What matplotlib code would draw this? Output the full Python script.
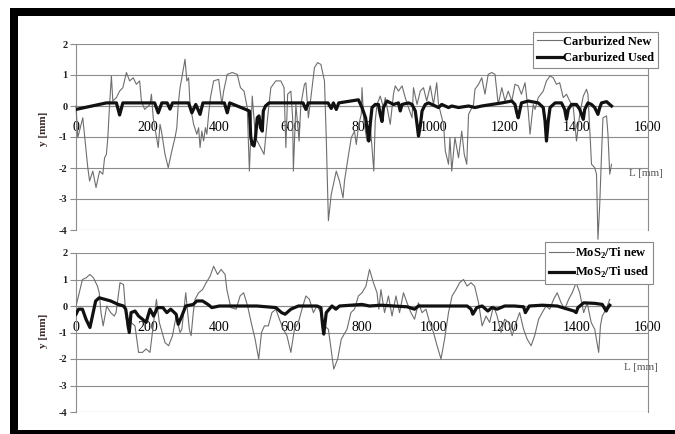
import matplotlib
matplotlib.use("Agg")
import matplotlib.pyplot as plt
from matplotlib.patches import Rectangle

plt.rcParams['font.family'] = ['Liberation Serif', 'DejaVu Serif']
plt.rcParams['mathtext.fontset'] = 'custom'
plt.rcParams['mathtext.rm'] = 'Liberation Serif'
plt.rcParams['mathtext.bf'] = 'Liberation Serif:bold'

# ---------------- data ----------------
carb_new_L = [0, 5, 19, 33, 38, 47, 56, 66, 75, 80, 85, 89, 94, 99, 103, 113, 122, 131, 141, 150,
              160, 169, 178, 183, 192, 207, 211, 216, 230, 235, 239, 249, 258, 268, 277, 282, 286, 291,
              296, 305, 310, 315, 319, 329, 338, 343, 347, 352, 357, 362, 366, 371, 376, 385, 399, 408,
              413, 423, 437, 451, 460, 470, 479, 485, 493, 502, 512, 526, 535, 545, 559, 573, 582, 587,
              592, 601, 606, 608, 615, 624, 629, 639, 643, 650, 657, 667, 676, 685, 695, 700, 706, 714,
              728, 737, 747, 751, 761, 770, 779, 784, 791, 798, 800, 805, 814, 823, 833, 837, 842, 851,
              860, 865, 879, 888, 893, 902, 912, 921, 930, 940, 944, 954, 963, 972, 981, 991, 1000, 1009,
              1014, 1028, 1033, 1042, 1046, 1051, 1060, 1070, 1079, 1086, 1093, 1098, 1112, 1116, 1126,
              1135, 1144, 1153, 1163, 1172, 1181, 1191, 1200, 1209, 1219, 1228, 1237, 1246, 1256, 1265,
              1270, 1279, 1284, 1293, 1307, 1316, 1326, 1335, 1344, 1353, 1363, 1372, 1381, 1391, 1400,
              1409, 1419, 1428, 1432, 1442, 1451, 1456, 1460, 1465, 1470, 1474, 1484, 1488, 1493, 1498]
carb_new_y = [0.0, -1.02, -0.38, -1.99, -2.42, -2.10, -2.63, -2.10, -2.20, -1.67, -1.56, -1.02, 0.05, 0.97,
              0.16, 0.27, 0.48, 0.59, 1.08, 0.81, 0.91, 0.70, 0.81, 0.16, -0.11, 0.05, 0.38, -0.38, -1.34,
              -0.59, -0.81, -1.56, -1.99, -1.45, -1.02, -0.70, 0.05, 0.59, 0.91, 1.51, 0.81, 0.91, 0.05,
              -0.59, -0.91, -0.70, -1.34, -0.81, -1.13, -0.70, -0.91, -0.27, 0.27, 0.81, 0.86, 0.05, 0.48,
              1.02, 1.08, 1.02, 0.59, 0.48, -0.05, -2.10, 0.32, -1.02, -1.24, -1.56, -0.48, 0.59, 0.81,
              0.81, 0.59, -1.34, 0.38, 0.48, -0.38, -2.10, 0.05, -1.13, 0.05, 0.70, 0.75, -0.38, 0.27,
              1.24, 1.40, 1.34, 0.81, -1.02, -3.70, -2.85, -2.10, -2.42, -2.96, -2.42, -1.67, -1.02, -0.81,
              -1.24, -0.59, -0.27, 0.59, -0.48, -1.13, -0.59, -2.10, -0.48, 0.05, 0.32, -0.05, 0.27, -0.59,
              0.38, 0.65, 0.48, 0.65, 0.27, -0.05, -0.38, 0.59, 0.05, 0.48, 0.59, 0.16, 0.65, 0.05, 0.75,
              0.05, -0.59, -1.45, -1.88, -1.02, -2.10, -1.02, -1.67, -0.81, -1.56, -1.88, -0.27, 0.05, 0.54,
              0.70, 0.91, 0.38, 1.02, 1.08, 1.02, 0.05, 0.59, 0.16, 0.48, 0.16, 0.70, 0.65, 0.38, 0.75,
              -0.16, -0.91, 0.05, -0.11, 0.27, 0.48, 0.81, 0.97, 0.91, 0.70, 0.75, 0.27, 0.38, 0.16, -0.05,
              -1.13, -0.27, 0.32, 0.54, 0.38, -1.88, -1.99, -2.20, -4.30, -3.17, -1.56, -0.38, -0.32, -0.91,
              -2.20, -1.88]

carb_used_L = [0, 85, 113, 122, 131, 220, 230, 240, 255, 263, 270, 315, 324, 335, 347, 355, 415, 423, 430,
               485, 489, 493, 498, 502, 507, 512, 516, 521, 524, 530, 540, 635, 643, 650, 705, 714, 720,
               728, 735, 790, 800, 810, 814, 819, 823, 828, 837, 846, 851, 856, 860, 870, 888, 902, 907,
               912, 930, 940, 949, 954, 958, 963, 968, 977, 986, 1005, 1014, 1023, 1042, 1051, 1070, 1098,
               1116, 1135, 1163, 1191, 1219, 1228, 1233, 1237, 1242, 1246, 1265, 1293, 1307, 1312, 1316,
               1321, 1326, 1340, 1358, 1367, 1372, 1377, 1386, 1400, 1409, 1419, 1423, 1432, 1442, 1451,
               1460, 1465, 1470, 1484, 1493, 1498]
carb_used_y = [-0.11, 0.10, 0.10, -0.29, 0.10, 0.10, -0.22, 0.10, 0.10, -0.10, 0.10, 0.10, -0.22, 0.05,
               -0.27, 0.10, 0.10, -0.22, 0.10, -0.16, -1.02, -1.24, -1.29, -1.02, -0.38, -0.32, -0.70,
               -0.81, -0.16, 0.00, 0.10, 0.10, -0.11, 0.10, 0.10, -0.08, 0.10, -0.11, 0.10, 0.20, -0.05,
               -0.38, -0.70, -1.13, -0.59, -0.05, 0.05, 0.05, -0.27, -0.50, -0.05, 0.16, 0.05, 0.10,
               -0.16, 0.05, 0.10, 0.05, -0.16, -0.59, -0.97, -0.65, -0.16, 0.05, 0.10, 0.00, -0.05, 0.05,
               -0.05, 0.00, -0.05, 0.00, -0.05, 0.00, 0.05, 0.10, 0.16, 0.05, -0.22, -0.38, -0.11, 0.10,
               0.16, 0.10, -0.05, -0.48, -1.13, -0.48, -0.05, 0.10, 0.10, -0.11, -0.43, -0.11, 0.05, 0.05,
               -0.11, -0.43, -0.11, 0.10, 0.05, -0.05, -0.27, -0.05, 0.10, 0.14, 0.05, 0.00]

mos_new_L = [0, 7, 18, 28, 39, 49, 60, 65, 70, 76, 86, 97, 107, 112, 123, 133, 139, 144, 154, 165, 175,
             186, 196, 207, 217, 225, 233, 249, 259, 270, 280, 291, 296, 307, 317, 322, 328, 333, 343,
             354, 364, 375, 385, 396, 406, 417, 422, 433, 448, 459, 469, 480, 490, 501, 511, 519, 527,
             538, 548, 559, 569, 580, 590, 601, 611, 622, 632, 643, 653, 664, 674, 685, 695, 706, 716,
             721, 732, 742, 758, 769, 779, 790, 800, 811, 821, 832, 842, 847, 853, 863, 874, 884, 895,
             905, 916, 926, 937, 947, 958, 968, 979, 989, 1000, 1010, 1021, 1031, 1042, 1052, 1063, 1073,
             1084, 1094, 1105, 1115, 1126, 1136, 1147, 1157, 1168, 1178, 1189, 1199, 1210, 1220, 1231,
             1241, 1252, 1262, 1273, 1283, 1294, 1304, 1315, 1325, 1336, 1346, 1357, 1367, 1378, 1388,
             1399, 1409, 1420, 1430, 1441, 1451, 1462, 1467, 1472, 1483, 1493]
mos_new_y = [0.0, 0.38, 1.0, 1.06, 1.19, 1.06, 0.75, 0.5, -0.25, -0.75, 0.0, -0.25, -0.38, -0.25, 0.88,
             0.81, -0.25, -0.88, -0.62, -0.75, -1.75, -1.75, -1.62, -1.75, -0.62, 0.25, -0.62, -1.38,
             -1.5, -1.12, -0.38, -1.0, -0.88, 0.5, -0.88, -1.12, -0.25, 0.25, 0.5, 0.62, 0.88, 1.12, 1.5,
             1.19, 1.38, 1.19, 0.62, -0.06, -0.12, 0.38, 0.5, 0.0, -0.62, -1.25, -2.0, -1.0, -0.75, -0.75,
             -0.25, -0.12, -0.5, -0.88, -1.12, -1.75, -0.88, -0.62, -0.12, 0.38, 0.25, -0.25, 0.0, -0.25,
             -0.75, -0.88, -1.88, -2.38, -2.0, -1.25, -0.88, -0.25, -0.12, 0.38, 0.5, 0.75, 1.38, 0.88,
             0.5, -0.12, 0.62, -0.25, 0.38, -0.38, 0.38, -0.25, 0.5, 0.12, -0.25, -0.5, 0.12, -0.25, -0.12,
             -0.62, -1.0, -1.5, -2.0, -1.25, -0.25, 0.38, 0.62, 0.88, 1.0, 0.75, 0.88, 0.75, 0.12, -0.75,
             -0.38, -0.62, 0.0, -0.38, -1.0, -0.5, -0.62, -1.12, -0.62, -0.25, -0.88, -1.25, -1.5, -1.12,
             -0.5, -0.25, 0.0, -0.12, 0.25, 0.5, 0.12, -0.12, 0.25, 0.5, 0.88, 0.5, -0.25, 0.12, -0.62,
             -0.88, -1.75, -0.75, -0.38, -0.12, 0.25]

mos_used_L = [0, 7, 18, 28, 39, 44, 55, 65, 81, 97, 118, 133, 139, 149, 154, 165, 175, 186, 196, 207, 217,
              228, 243, 254, 265, 280, 286, 296, 307, 328, 338, 354, 369, 380, 401, 453, 506, 559, 575,
              585, 601, 622, 674, 685, 690, 693, 700, 716, 727, 737, 800, 821, 853, 926, 947, 958, 1031,
              1094, 1105, 1110, 1121, 1136, 1152, 1163, 1178, 1199, 1226, 1252, 1257, 1268, 1304, 1346,
              1393, 1399, 1404, 1420, 1451, 1472, 1483, 1488, 1493]
mos_used_y = [-0.31, -0.12, -0.12, -0.5, -0.81, -0.5, 0.19, 0.31, 0.25, 0.19, 0.06, 0.0, -0.12, -1.0,
              -0.25, -0.19, -0.38, -0.5, -0.62, -0.12, -0.38, -0.06, -0.06, -0.25, -0.12, -0.31, -0.69,
              -0.38, 0.0, 0.06, 0.19, 0.19, 0.06, -0.06, 0.0, 0.0, 0.0, -0.06, -0.25, -0.31, -0.12, 0.0,
              0.0, -0.06, -0.75, -1.06, -0.25, 0.0, -0.12, 0.0, 0.06, 0.0, 0.03, -0.03, -0.12, 0.0, 0.0,
              0.0, -0.12, -0.31, -0.06, 0.0, -0.19, -0.06, -0.12, 0.0, 0.0, -0.03, -0.25, 0.0, 0.03, 0.0,
              -0.19, -0.25, -0.06, 0.12, 0.1, 0.06, -0.19, -0.06, 0.03]

x_ticks = [0, 200, 400, 600, 800, 1000, 1200, 1400, 1600]
y_ticks = [-4, -3, -2, -1, 0, 1, 2]

top_labels = ['Carburized New', 'Carburized Used']
bot_labels = [r'MoS$_{\mathbf{2}}$/Ti new', r'MoS$_{\mathbf{2}}$/Ti used']

# ---------------- figure ----------------
W, H = 675, 434
fig = plt.figure(figsize=(W / 100, H / 100), dpi=100)

def px_rect(x0, y0, x1, y1):
    return [x0 / W, 1 - y1 / H, (x1 - x0) / W, (y1 - y0) / H]

ax1 = fig.add_axes(px_rect(76, 44, 648, 230))
ax2 = fig.add_axes(px_rect(76, 253, 648, 412))

GRID = '#8c8c8c'

def style(ax):
    ax.set_xlim(0, 1600)
    ax.set_ylim(-4, 2)
    ax.set_yticks(y_ticks)
    ax.set_xticks(x_ticks)
    ax.set_yticklabels([str(v) for v in y_ticks], fontweight='bold', fontsize=7.5, color='#222222')
    ax.set_xticklabels([str(v) for v in x_ticks], fontsize=8, color='#555555')
    ax.yaxis.grid(True, color=GRID, linewidth=0.8)
    ax.set_axisbelow(True)
    for s in ['top']:
        ax.spines[s].set_visible(False)
    ax.spines['bottom'].set_position(('data', 0))
    for s in ['bottom', 'left', 'right']:
        ax.spines[s].set_color(GRID)
        ax.spines[s].set_linewidth(0.8)
    ax.tick_params(axis='y', length=4, width=0.8, color=GRID, pad=2)
    ax.tick_params(axis='x', length=0, pad=10.5)
    ax.patch.set_alpha(0)

style(ax1)
style(ax2)

ax1.plot(carb_new_L, carb_new_y, color='#6e6e6e', lw=0.8, label=top_labels[0], clip_on=False, zorder=3)
ax1.plot(carb_used_L, carb_used_y, color='#111111', lw=2.3, label=top_labels[1], zorder=4,
         solid_joinstyle='round')
ax2.plot(mos_new_L, mos_new_y, color='#6e6e6e', lw=0.8, label=bot_labels[0], zorder=3)
ax2.plot(mos_used_L, mos_used_y, color='#111111', lw=2.3, label=bot_labels[1], zorder=4,
         solid_joinstyle='round')

leg_kw = dict(loc='upper right', fancybox=False, framealpha=1, edgecolor='#888888',
              borderaxespad=0, handlelength=2.0, handletextpad=0.1, borderpad=0.3,
              labelspacing=0.35, prop={'family': 'Liberation Serif', 'weight': 'bold', 'size': 9})
l1 = ax1.legend(bbox_to_anchor=(658 / W, 1 - 32 / H), bbox_transform=fig.transFigure, **leg_kw)
l1.get_frame().set_linewidth(0.8)
l1.set_zorder(10)
l2 = ax2.legend(bbox_to_anchor=(653 / W, 1 - 242 / H), bbox_transform=fig.transFigure, **leg_kw)
l2.get_frame().set_linewidth(0.8)
l2.set_zorder(10)

for yc in [129, 331]:
    fig.text(43 / W, 1 - yc / H, 'y [mm]', rotation=90, ha='center', va='center',
             fontsize=8, fontweight='bold', color='#3a2a2a')
for xc, yc in [(646, 174), (641, 367)]:
    fig.text(xc / W, 1 - yc / H, 'L [mm]', ha='center', va='center', fontsize=8, color='#555555')

# black frame (cut at the right side)
for (x0, y0, x1, y1) in [(10, 8, 675, 16), (10, 8, 18, 434), (10, 430, 675, 434)]:
    fig.add_artist(Rectangle((x0 / W, 1 - y1 / H), (x1 - x0) / W, (y1 - y0) / H,
                             transform=fig.transFigure, facecolor='black', edgecolor='none'))

fig.savefig('out.png', dpi=100)
